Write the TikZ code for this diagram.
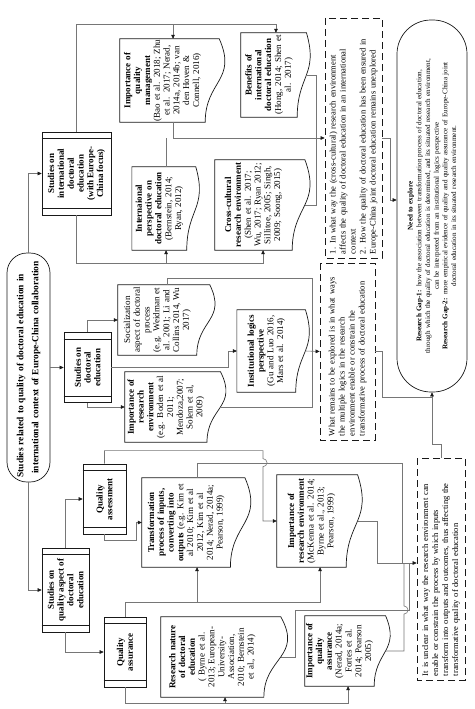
\documentclass[tikz,border=0pt]{standalone}
\usepackage{fontspec}
\setmainfont{Liberation Serif}
\usetikzlibrary{arrows.meta,calc}
\definecolor{linec}{RGB}{118,118,118}
\definecolor{inkc}{RGB}{25,25,25}
\newcommand\boxfont{\fontsize{9}{9.8}\selectfont}
\newcommand\gapfont{\fontsize{8.5}{10}\selectfont}
\newcommand\rootfont{\fontsize{9.4}{15}\selectfont\bfseries}
\newcommand\explfont{\fontsize{7.1}{8.7}\selectfont}

\tikzset{
  conn/.style={draw=linec, line width=0.6pt},
  arr/.style={conn, -{Triangle[length=4pt,width=3.6pt,color=inkc]}},
  boxline/.style={draw=inkc, line width=0.7pt},
  rootbox/.style={draw=inkc, line width=0.7pt, rounded corners=20pt, rotate=90,
    font=\rootfont, align=center, inner sep=1pt},
  procbox/.style={draw=inkc, line width=0.7pt, rotate=90, font=\boxfont\bfseries,
    align=center, inner sep=1pt},
  docbox/.style={rotate=90, font=\boxfont, align=center, inner sep=0pt},
  gapbox/.style={draw=inkc, line width=0.7pt, dash pattern=on 7pt off 4pt, rotate=90,
    font=\gapfont, align=left, inner sep=3pt},
  explbox/.style={draw=inkc, line width=0.7pt, rounded corners=34pt, rotate=90,
    font=\explfont, align=center, inner sep=1pt},
}

% wavy document outline round a text node, with attach points -t, -b, -r
\newcommand\docshape[1]{%
  \draw[boxline] let \p1=(#1.north east), \p2=(#1.south west) in
    (\x1,\y1) -- ({\x1+1.1646*(\x2-\x1)},\y1)
    .. controls ({\x1+1.3803*(\x2-\x1)},{(\y1+\y2)/2}) and (\x2,{(\y1+\y2)/2}) .. (\x2,\y2)
    -- (\x1,\y2) -- cycle
    coordinate (#1-t) at ({\x1+0.6234*(\x2-\x1)},\y1)
    coordinate (#1-b) at ({\x1+0.6234*(\x2-\x1)},\y2)
    coordinate (#1-r) at ({\x1+1.1633*(\x2-\x1)},{(\y1+\y2)/2});}

\begin{document}
\begin{tikzpicture}[x=1pt, y=-1pt]
  \useasboundingbox (0,0) rectangle (474,709);

  % root
  \node[rootbox, minimum width=229pt, minimum height=43pt, text width=222pt] (root) at (28.5,367.5)
    {\makebox[220pt][s]{Studies related to quality of doctoral education in}\\international context of Europe-China collaboration};

  % first level
  \node[procbox, minimum width=83pt, minimum height=69pt] (intl) at (76.5,173.5)
    {Studies on\\international\\doctoral\\education\\(with Europe-\\China focus)};
  \node[procbox, minimum width=70pt, minimum height=47pt] (doct) at (87.5,367.5)
    {Studies on\\doctoral\\education};
  \node[procbox, minimum width=84pt, minimum height=47pt] (qual) at (65.5,590)
    {Studies on\\quality aspect of\\doctoral\\education};
  \node[procbox, minimum width=70pt, minimum height=43pt] (qasm) at (104.5,499)
    {Quality\\assessment};
  \node[procbox, minimum width=70pt, minimum height=42pt] (qasr) at (125,652)
    {Quality\\assurance};
  \foreach \b in {intl,doct,qual,qasm,qasr}
    \draw[boxline] ([yshift=-7pt]\b.north east) -- ([yshift=-7pt]\b.south east)
                   ([yshift=7pt]\b.north west) -- ([yshift=7pt]\b.south west);

  % literature boxes
  \node[docbox, minimum width=83pt, minimum height=85pt, text width=83pt] (qm) at (162.5,80.5)
    {\textbf{Importance of\\quality\\management}\\(Bao et al. 2018; Zhu\\et al. 2017; Nerad,\\2014a, 2014b; van\\den Hoven \&\\Connell, 2016)};
  \node[docbox, minimum width=84pt, minimum height=56pt, text width=84pt] (ben) at (269,75)
    {\textbf{Benefits of\\international\\doctoral education}\\(Hong, 2014; Shen et\\al. 2017)};
  \node[docbox, minimum width=83pt, minimum height=54.5pt, text width=83pt] (ip) at (159.3,208.5)
    {\textbf{Internaional\\perspective on\\doctoral education}\\(Bernstein, 2014;\\Ryan, 2012)};
  \node[docbox, minimum width=90pt, minimum height=77pt, text width=90pt] (cc) at (253.5,205)
    {\textbf{Cross-cultural\\research environment}\\(Shen et al. 2017;\\Wu, 2017; Ryan 2012;\\Sillitoe, 2005; Singh,\\2009; Soong, 2015)};
  \node[docbox, minimum width=70pt, minimum height=78.6pt, text width=70pt] (soc) at (157.3,320)
    {Socialization\\aspect of doctoral\\process\\(e.g. Weidman et\\al. 2001; Li and\\Collins 2014, Wu\\2017)};
  \node[docbox, minimum width=70pt, minimum height=81.8pt, text width=70pt] (ire1) at (165.9,407)
    {\textbf{Importance of\\research\\environment}\\(e.g. Boden et al\\2011;\\Mendoza,2007;\\Solem et al,\\2009)};
  \node[docbox, minimum width=82pt, minimum height=58.5pt, text width=82pt] (inst) at (266.3,351)
    {\textbf{Institutional logics\\perspective}\\(Gu and Luo 2016,\\Mars et al. 2014)};
  \node[docbox, minimum width=89pt, minimum height=88.2pt, text width=89pt] (tr) at (186.1,522.5)
    {\textbf{Transformation\\process of inputs,\\converting into\\outputs} (e.g. Kim et\\al 2010; Kim et al\\2012, Kim et al\\2014; Nerad, 2014a;\\Pearson, 1999)};
  \node[docbox, minimum width=92pt, minimum height=69pt, text width=92pt] (ire2) at (311.5,521)
    {\textbf{Importance of\\research environment}\\(McKenna et al. 2014;\\Byrne et al., 2013;\\Pearson, 1999)};
  \node[docbox, minimum width=80pt, minimum height=102.7pt, text width=80pt] (rn) at (212.3,657)
    {\textbf{Research nature\\of doctoral\\education}\\( Byrne et al.\\2013; European-\\University-\\Association,\\2010; Bernstein\\et al., 2014)};
  \node[docbox, minimum width=70pt, minimum height=69pt, text width=70pt] (iqa) at (339.5,651)
    {\textbf{Importance of\\quality\\assurance}\\(Nerad, 2014a;\\Fortes et al.\\2014; Pearson\\2005)};
  \foreach \b in {qm,ben,ip,cc,soc,ire1,inst,tr,ire2,rn,iqa}
    \docshape{\b};

  % gaps
  \node[gapbox, minimum width=240pt, minimum height=57pt, text width=232pt] (db1) at (353.5,138)
    {1. In what way the (cross-cultural) research environment\\affects the quality of doctoral education in an international\\context\\2. How the quality of doctoral education has been ensured in\\Europe-China joint doctoral education remains unexplored};
  \node[gapbox, minimum width=177pt, minimum height=55pt, text width=169pt] (db2) at (347.5,351.5)
    {What remains to be explored is in what ways\\the multiple logics in the research\\environment enable or constrain the\\transformative process of doctoral education};
  \node[gapbox, minimum width=222pt, minimum height=48pt, text width=214pt] (db3) at (441,569)
    {It is unclear in what way the research environment can\\enable or constrain the process by which inputs\\transform into outputs and outcomes, thus affecting the\\transformative quality of doctoral education};
  \node[explbox, minimum width=372pt, minimum height=70pt, text width=340pt] (explore) at (432,206)
    {\textbf{Need to explore}\\\textbf{Research Gap-1:} how the association between transformation process of doctoral education,\\through which the quality of doctoral education is determined, and its situated research environment,\\can be interpreted from an institutional logics perspective\\\textbf{Research Gap-2:} more empirical evidence of quality and quality assurance of Europe-China joint\\doctoral education in its situated research environment.};

  % root to first level
  \draw[arr] (root.east) |- (intl.north);
  \draw[arr] (root.south) -- (doct.north);
  \draw[arr] (root.west) |- (qual.north);

  % international branch
  \draw[arr] (intl.east) -- ++(0,-107) -| (qm-t);
  \draw[arr] (intl.east) ++(0,-107) -| (ben-t);
  \draw[arr] (intl.west) -- ++(0,48) -| (ip-b);
  \draw[arr] (intl.west) ++(0,48) -| (cc-b);
  \draw[arr] (qm-b) |- (db1.north);
  \draw[conn] (ip-t) -- (ip-t |- db1.north);
  \draw[conn] (ben-r) -| ([xshift=-8pt]db1.north);
  \draw[conn] (cc-r) -| ([xshift=-8pt]db1.north);
  \draw[arr] (db1.south) -- ++(8,0) |- ([yshift=6pt]explore.north);

  % doctoral education branch
  \draw[arr] (doct.east) |- (soc.north);
  \draw[arr] (doct.west) |- (ire1.north);
  \draw[arr] (doct.south) -- ++(117,0) |- (inst.north);
  \coordinate (jB) at (312,351);
  \draw[conn] (soc-t) -- ++(0,-7) -| (jB);
  \draw[conn] (ire1-r) -| (jB);
  \draw[arr] (inst-r) -- (db2.north);

  % into the research gaps
  \coordinate (jC) at (432,397);
  \draw[conn] (db2.south) -- ++(7,0) |- (jC);
  \draw[conn] (db3.east) -- ++(0,-13) -| (jC);
  \draw[arr] (jC) -- (explore.west);

  % quality branch
  \draw[arr] (qual.east) |- (qasm.north);
  \draw[arr] (qual.west) |- (qasr.north);
  \draw[arr] (qasm.west) -- ++(0,6) -| ([xshift=-6pt]tr.north) -- (tr.north);
  \draw[arr] (qasm.east) -- ++(0,-13) -- ++(158.5,0) -- ++(0,8)
    arc[start angle=90, end angle=-90, radius=4pt] |- (ire2.north);
  \coordinate (jD) at (402,563);
  \coordinate (jE) at (409,563);
  \draw[conn] (tr-t) -- ++(0,-15) -| (jD);
  \draw[conn] (ire2-r) -- ++(20,0) |- (jD);
  \draw[arr] (jD) -- (jD -| db3.north);
  \draw[arr] (qasr.east) -- ++(0,-14) -| (tr-b);
  \draw[arr] (qasr.east) ++(0,-14) -| (ire2-b);
  \draw[arr] (qasr.west) -- ++(0,16) -| (rn-b);
  \draw[arr] (qasr.west) ++(0,16) -| (iqa-b);
  \draw[conn] (rn-r) -- ++(15,0) |- ([yshift=-47pt]jE) -- (jE);
  \draw[conn] (iqa-r) -| ([yshift=-51pt,xshift=-5pt]jE) arc[start angle=-90, end angle=90, radius=4pt]
    -- ([xshift=-5pt]jE);
\end{tikzpicture}
\end{document}
